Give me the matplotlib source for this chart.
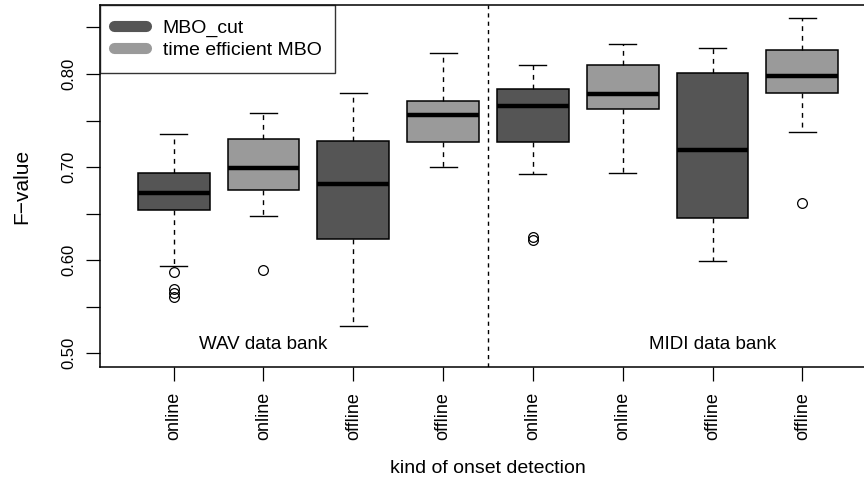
import matplotlib
matplotlib.use('Agg')
import matplotlib.pyplot as plt
from matplotlib.lines import Line2D

plt.rcParams['font.family'] = ['Liberation Sans', 'DejaVu Sans']

# box statistics (F-values)
tick_labels = ['online', 'online', 'offline', 'offline',
               'online', 'online', 'offline', 'offline']
methods = ['MBO_cut', 'time efficient MBO'] * 4
whis_lo = [0.594, 0.647, 0.529, 0.700, 0.693, 0.694, 0.5995, 0.738]
q1 = [0.654, 0.675, 0.623, 0.727, 0.727, 0.762, 0.645, 0.780]
medians = [0.672, 0.699, 0.682, 0.756, 0.766, 0.778, 0.718, 0.798]
q3 = [0.694, 0.730, 0.728, 0.771, 0.784, 0.810, 0.801, 0.826]
whis_hi = [0.7355, 0.7585, 0.7795, 0.823, 0.810, 0.832, 0.8275, 0.860]
outliers = [[0.587, 0.569, 0.565, 0.561], [0.589], [], [],
            [0.6245, 0.622], [], [], [0.661]]
bank_labels = ['WAV data bank', 'MIDI data bank']

colors = {'MBO_cut': '#555555', 'time efficient MBO': '#9a9a9a'}

stats = []
for i in range(len(medians)):
    stats.append({'med': medians[i], 'q1': q1[i], 'q3': q3[i],
                  'whislo': whis_lo[i], 'whishi': whis_hi[i],
                  'fliers': outliers[i]})

fig = plt.figure(figsize=(8.64, 4.8), dpi=100)
ax = fig.add_axes([100 / 864, 113 / 480, 776 / 864, 362 / 480])

pos = list(range(1, len(stats) + 1))
bp = ax.bxp(stats, positions=pos, widths=0.8, patch_artist=True,
            capwidths=0.3,
            boxprops=dict(edgecolor='black', linewidth=1.1),
            medianprops=dict(color='black', linewidth=3.2, solid_capstyle='butt'),
            whiskerprops=dict(color='black', linewidth=1, linestyle=(0, (3.5, 3.5))),
            capprops=dict(color='black', linewidth=1),
            flierprops=dict(marker='o', markerfacecolor='none',
                            markeredgecolor='black', markersize=7,
                            markeredgewidth=0.9))
for patch, m in zip(bp['boxes'], methods):
    patch.set_facecolor(colors[m])

# separator between the two data banks
ax.axvline(4.5, color='black', linewidth=1, linestyle=(0, (3, 3)))

ax.text(2, 0.509, bank_labels[0], ha='center', va='center', fontsize=13.5)
ax.text(7, 0.509, bank_labels[1], ha='center', va='center', fontsize=13.5)

ax.set_xlim(0.18, 8.82)
ax.set_ylim(0.4853, 0.8741)
ax.set_xticks(pos)
ax.set_xticklabels(tick_labels, rotation=90, fontsize=13)
ax.set_yticks([0.5, 0.6, 0.7, 0.8])
ax.set_yticklabels(['0.50', '0.60', '0.70', '0.80'], rotation=90,
                   va='center', fontsize=12)
ax.set_yticks([0.55, 0.65, 0.75, 0.85], minor=True)
ax.tick_params(axis='both', which='both', length=10, width=0.9, direction='out')
ax.tick_params(axis='x', pad=8)
ax.tick_params(axis='y', pad=7)
ax.spines['right'].set_visible(False)
for s in ['left', 'bottom', 'top']:
    ax.spines[s].set_linewidth(1.1)

ax.set_xlabel('kind of onset detection', fontsize=14, labelpad=14)
ax.set_ylabel('F\u2212value', fontsize=15, labelpad=22)

handles = [Line2D([0], [0], color=colors[m], linewidth=8, solid_capstyle='round')
           for m in ['MBO_cut', 'time efficient MBO']]
leg = ax.legend(handles, ['MBO_cut', 'time efficient MBO'], loc='upper left',
                fontsize=14, frameon=True, fancybox=False, borderaxespad=0,
                handlelength=1.65, handletextpad=0.85, labelspacing=0.22,
                borderpad=0.72)
leg.get_frame().set_edgecolor('black')
leg.get_frame().set_linewidth(1)

plt.savefig('out.png', dpi=100)
